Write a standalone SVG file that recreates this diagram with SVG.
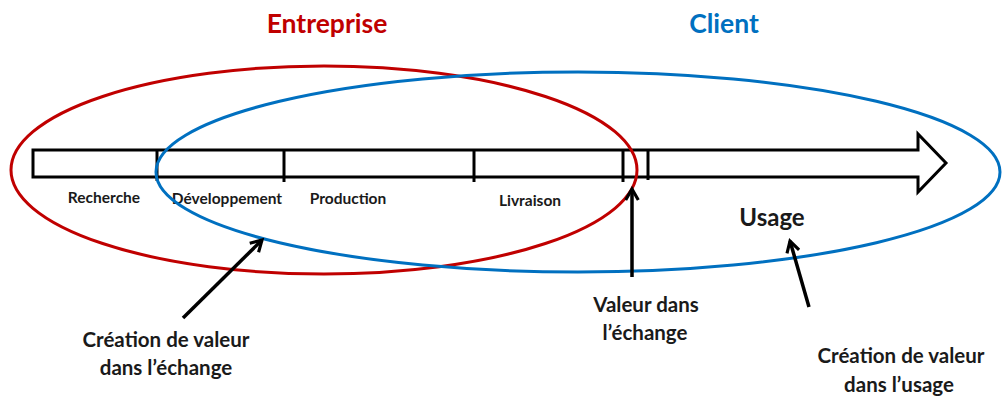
<svg xmlns="http://www.w3.org/2000/svg" width="1004" height="396" viewBox="0 0 1004 396">
<style>
.lbl{font-family:Lato,"Liberation Sans",sans-serif;font-weight:bold;fill:#1a1a1a;text-anchor:middle}
.small{font-size:15.5px}
.big{font-size:20.5px}
.ttl{font-family:Lato,"Liberation Sans",sans-serif;font-weight:bold;font-size:26.5px;text-anchor:middle}
.bar{fill:#fff;stroke:#000;stroke-width:3;stroke-linejoin:miter}
.div{stroke:#000;stroke-width:3}
.conn{stroke:#000;stroke-width:3.5;fill:none;marker-end:url(#ah)}
</style>
<defs>
<marker id="ah" viewBox="0 0 10 10" refX="8" refY="5" markerWidth="4.5" markerHeight="4.5" orient="auto" markerUnits="strokeWidth">
<path d="M1,1 L8,5 L1,9" fill="none" stroke="#000" stroke-width="2"/>
</marker>
</defs>
<rect width="1004" height="396" fill="#fff"/>
<g id="timeline">
<path class="bar" d="M33,150 H918 V134 L946,163 L918,192 V177 H33 Z"/>
<line class="div" x1="157" y1="150" x2="157" y2="181"/>
<line class="div" x1="284" y1="150" x2="284" y2="182"/>
<line class="div" x1="474" y1="150" x2="474" y2="182"/>
<line class="div" x1="623" y1="150" x2="623" y2="182"/>
<line class="div" x1="648" y1="150" x2="648" y2="180"/>
<text class="lbl small" x="104" y="203">Recherche</text>
<text class="lbl small" x="227" y="204">Développement</text>
<text class="lbl small" x="348" y="204">Production</text>
<text class="lbl small" x="530" y="206">Livraison</text>
</g>
<g id="entreprise">
<ellipse cx="324" cy="170" rx="313" ry="104" fill="none" stroke="#c00000" stroke-width="3"/>
<text class="ttl" x="327" y="33" fill="#c00000">Entreprise</text>
</g>
<g id="client">
<ellipse cx="578" cy="172" rx="422" ry="100" fill="none" stroke="#0070c0" stroke-width="3"/>
<text class="ttl" x="724" y="33" fill="#0070c0">Client</text>
</g>
<g id="usage">
<text class="lbl" x="772" y="226" font-size="24">Usage</text>
</g>
<g id="connectors">
<line class="conn" x1="183" y1="318" x2="262" y2="240"/>
<line class="conn" x1="632" y1="277" x2="632" y2="189"/>
<line class="conn" x1="809" y1="307" x2="790" y2="241"/>
</g>
<g id="label-creation-echange">
<text class="lbl big" x="166" y="347">Création de valeur</text>
<text class="lbl big" x="166" y="375">dans l’échange</text>
</g>
<g id="label-valeur-echange">
<text class="lbl big" x="646" y="312">Valeur dans</text>
<text class="lbl big" x="645" y="340">l’échange</text>
</g>
<g id="label-creation-usage">
<text class="lbl big" x="901" y="363">Création de valeur</text>
<text class="lbl big" x="899" y="392">dans l’usage</text>
</g>
</svg>
